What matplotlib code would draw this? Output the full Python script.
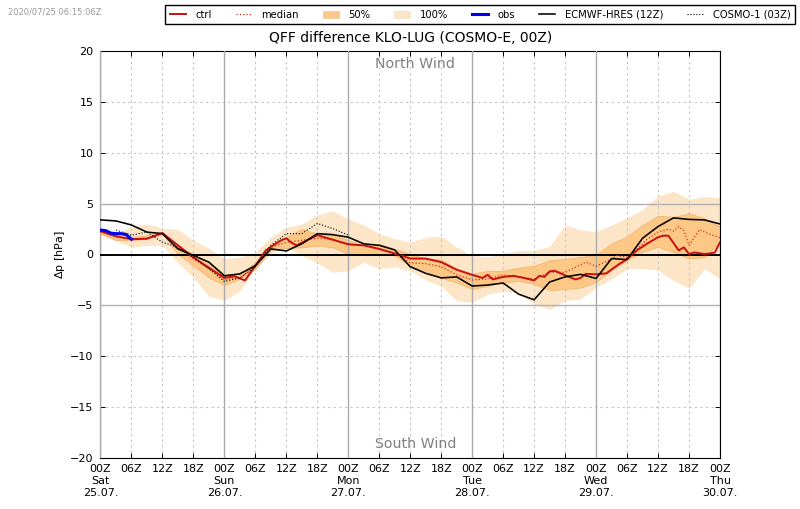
"""QFF difference KLO-LUG ensemble meteogram."""

import numpy as np
import matplotlib
matplotlib.use('Agg')
import matplotlib.pyplot as plt
from matplotlib.patches import Patch
from matplotlib.lines import Line2D

# Lead time in hours, 3-hourly
hours = list(range(0, 123, 3))

max_100 = [2.4, 2.1, 2.7, 3.0, 2.6, 2.45, 1.4, 0.6, -0.4, -0.25, 0.2, 1.7, 2.7, 3.0, 3.9, 4.3, 3.5,
           2.9, 2.05, 1.55, 1.2, 1.7, 1.8, 0.7, -0.1, -0.25, 0.1, 0.4, 0.4, 0.8, 2.9, 2.4, 2.25, 2.9,
           3.6, 4.4, 5.75, 6.2, 5.45, 5.7, 5.55]
min_100 = [1.9, 1.4, 0.7, 0.9, 0.9, -0.8, -2.25, -4.1, -4.5, -3.6, -1.4, 0.2, 0.7, -0.1, -0.8, -1.75, -1.6,
           -0.75, -1.4, -1.2, -1.6, -2.5, -3.1, -4.55, -4.7, -3.9, -3.6, -3.75, -4.9, -5.4, -4.5, -4.4, -3.2, -2.4,
           -1.4, -1.4, -1.55, -2.55, -3.35, -1.4, -2.4]
max_50 = [2.2, 1.7, 1.7, 1.9, 2.2, 0.9, 0.05, -0.75, -1.9, -1.9, -0.75, 0.9, 1.7, 2.5, 2.05, 2.05, 1.4,
          0.9, 1.05, 0.55, 0.05, -0.4, -0.5, -1.4, -1.9, -1.6, -1.6, -1.3, -1.1, -0.55, -0.45, -0.25, -0.05, 1.1,
          1.75, 2.9, 3.8, 3.7, 4.05, 3.55, 2.75]
min_50 = [2.05, 1.4, 1.4, 1.55, 2.05, 0.05, -1.1, -2.25, -3.0, -2.4, -1.4, 0.4, 0.65, 0.7, 0.9, 0.7, 0.05,
          0.05, 0.05, -0.1, -1.1, -1.6, -2.3, -2.75, -3.4, -3.1, -2.75, -2.6, -2.9, -3.5, -3.4, -3.25, -2.7, -1.55,
          -0.55, 0.25, 0.75, 0.25, -0.4, -0.25, 1.25]
ecmwf = [3.4, 3.3, 2.9, 2.2, 2.05, 0.55, -0.1, -0.75, -2.1, -1.9, -1.1, 0.55, 0.35, 1.05, 2.05, 1.95, 1.7,
         1.05, 0.9, 0.45, -1.2, -1.85, -2.3, -2.2, -3.1, -3.0, -2.8, -3.9, -4.45, -2.7, -2.2, -1.95, -2.35, -0.4,
         -0.5, 1.6, 2.75, 3.6, 3.45, 3.4, 3.0]

ctrl_hours = [0, 3, 6, 9, 12, 15, 18, 21, 24, 26, 28, 30, 32, 33, 35, 36, 37, 38, 40, 42, 44, 46, 48,
              51, 54, 57, 60, 63, 66, 69, 72, 74, 75, 76, 78, 80, 82, 84, 85, 86, 87, 88, 90, 92, 93, 94,
              96, 98, 100, 102, 104, 106, 108, 109, 110, 112, 113, 114, 115, 117, 118, 119, 120]
ctrl = [2.3, 1.8, 1.5, 1.55, 2.1, 0.9, -0.3, -1.3, -2.3, -2.15, -2.55, -1.1, 0.4, 0.75, 1.4, 1.6, 1.15, 0.9, 1.4, 1.9, 1.6, 1.3, 1.0,
        0.9, 0.55, 0.1, -0.4, -0.4, -0.75, -1.5, -2.0, -2.3, -2.0, -2.45, -2.2, -2.1, -2.3, -2.55, -2.1, -2.2, -1.65, -1.6, -2.05, -2.45, -2.3, -1.9,
        -1.95, -1.85, -1.1, -0.45, 0.45, 1.1, 1.7, 1.85, 1.85, 0.4, 0.7, 0.05, 0.2, 0.05, 0.1, 0.2, 1.2]

median_hours = [0, 3, 6, 9, 12, 15, 18, 21, 24, 27, 30, 33, 36, 39, 42, 45, 48,
                51, 54, 57, 60, 63, 66, 69, 72, 75, 78, 84, 87, 90, 92, 94,
                96, 99, 100, 102, 104, 106, 108, 110, 111, 112, 113, 114, 116, 118, 120]
median = [2.2, 1.7, 1.55, 1.6, 2.1, 0.7, -0.4, -1.4, -2.5, -2.3, -1.2, 0.7, 1.2, 1.4, 1.6, 1.5, 1.0,
          0.9, 0.5, 0.1, -0.8, -0.9, -1.2, -2.0, -2.5, -2.4, -2.0, -2.4, -1.75, -1.75, -1.25, -0.75,
          -1.15, -0.45, -0.1, -0.25, 0.55, 1.55, 2.2, 2.5, 2.3, 2.75, 2.35, 0.9, 2.45, 2.0, 1.65]

cosmo1_hours = [3, 6, 9, 12, 15, 18, 21, 24, 27, 30, 33, 36, 39, 42, 45, 48]
cosmo1 = [2.4, 1.9, 2.2, 1.2, 0.7, -0.25, -1.4, -2.65, -2.3, -1.2, 0.9, 2.05, 2.05, 3.05, 2.55, 1.9]

obs_hours = [0, 1, 2, 3, 4, 5, 6]
obs = [2.4, 2.35, 2.1, 2.05, 2.05, 1.95, 1.5]

day_labels = ['Sat\n25.07.', 'Sun\n26.07.', 'Mon\n27.07.', 'Tue\n28.07.', 'Wed\n29.07.', 'Thu\n30.07.']

light_orange = '#fde5c8'
mid_orange = '#fdc785'

plt.rcParams['font.family'] = 'DejaVu Sans'

fig = plt.figure(figsize=(8, 5.09), dpi=100)
ax = fig.add_axes([100.5 / 800, 1 - 458 / 509, 619.5 / 800, 407 / 509])

ax.fill_between(hours, min_100, max_100, color=light_orange, linewidth=0, zorder=1)
ax.fill_between(hours, min_50, max_50, facecolor=mid_orange, edgecolor='#eeb36e', linewidth=0.5, zorder=2)

# Grid lines, the light ones sit below the bands
tick_hours = np.arange(0, 121, 6)
for h in tick_hours:
    if h % 24 == 0:
        ax.axvline(h, color='#aaaaaa', linewidth=1, zorder=3)
    else:
        ax.axvline(h, color='#c4c4c4', linewidth=0.8, linestyle=(0, (2, 3)), zorder=1.5)
for y in [-15, -10, 10, 15]:
    ax.axhline(y, color='#c4c4c4', linewidth=0.8, linestyle=(0, (2, 3)), zorder=0.5)
for y in [-5, 5]:
    ax.axhline(y, color='#b0b0b0', linewidth=1, zorder=3)
ax.axhline(0, color='black', linewidth=1.4, zorder=4)

ax.plot(median_hours, median, color='#d62c1a', linewidth=0.9, linestyle=':', zorder=5)
ax.plot(ctrl_hours, ctrl, color='#c81010', linewidth=1.4, zorder=6)
ax.plot(hours, ecmwf, color='black', linewidth=1.15, zorder=7)
ax.plot(cosmo1_hours, cosmo1, color='black', linewidth=0.8, linestyle=':', zorder=7)
ax.plot(obs_hours, obs, color='#0000ee', linewidth=2.2, zorder=8)

ax.set_xlim(0, 120)
ax.set_ylim(-20, 20)
ax.set_yticks(np.arange(-20, 21, 5))
ax.set_xticks(tick_hours)
labels = []
for h in tick_hours:
    label = f'{h % 24:02d}Z'
    if h % 24 == 0:
        label += '\n' + day_labels[h // 24]
    labels.append(label)
ax.set_xticklabels(labels, linespacing=1.25)
ax.tick_params(direction='in', length=3.5, width=0.7, top=True, right=True, labelsize=8)
ax.tick_params(axis='x', pad=4)
ax.tick_params(axis='y', pad=5)
ax.set_ylabel(r'$\Delta$p [hPa]', fontsize=8, labelpad=2)
ax.set_title('QFF difference KLO-LUG (COSMO-E, 00Z)', fontsize=10, pad=6.5)

ax.text(61, 18.7, 'North Wind', color='#808080', fontsize=10.2, ha='center', va='center')
ax.text(61, -18.6, 'South Wind', color='#808080', fontsize=10.2, ha='center', va='center')

fig.text(8 / 800, 1 - 12 / 509, '2020/07/25 06:15:06Z', color='#999999', fontsize=6, va='center')

handles = [
    Line2D([], [], color='#c81010', linewidth=1.4),
    Line2D([], [], color='#d62c1a', linewidth=0.9, linestyle=':'),
    Patch(facecolor=mid_orange, edgecolor='#e8c090', linewidth=0.4),
    Patch(facecolor=light_orange, edgecolor='#eedcc4', linewidth=0.4),
    Line2D([], [], color='#0000ee', linewidth=2.2),
    Line2D([], [], color='black', linewidth=1.15),
    Line2D([], [], color='black', linewidth=0.8, linestyle=':'),
]
names = ['ctrl', 'median', '50%', '100%', 'obs', 'ECMWF-HRES (12Z)', 'COSMO-1 (03Z)']
fig.legend(handles, names, ncol=7, loc='upper right', bbox_to_anchor=(795 / 800, 1 - 5 / 509),
           fontsize=7.2, fancybox=False, framealpha=1, edgecolor='black', borderaxespad=0,
           handlelength=1.6, columnspacing=2.35, handletextpad=1.0, borderpad=0.45)

fig.savefig('out.png', dpi=100)
